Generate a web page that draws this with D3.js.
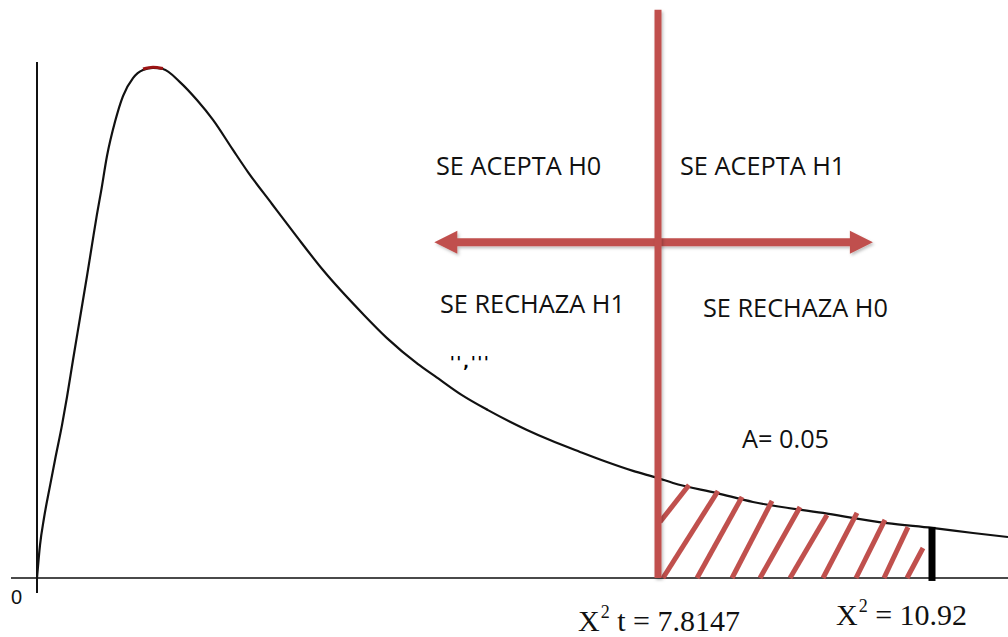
<!DOCTYPE html>
<html>
<head>
<meta charset="utf-8">
<script src="https://cdn.jsdelivr.net/npm/d3@7"></script>
<style>
  html, body { margin: 0; padding: 0; background: #fff; }
  svg { display: block; }
</style>
</head>
<body>
<svg id="chart" width="1008" height="637"></svg>
<script>
// ---- data (chi-square density as drawn, df = 3) ----
const curveX = [0, 0.0378, 0.0881, 0.1636, 0.2265, 0.3146, 0.3775, 0.4530, 0.5411, 0.6292, 0.6921, 0.7550,
  0.8053, 0.8808, 0.9815, 1.0822, 1.2080, 1.3338, 1.4597, 1.5855, 1.799, 2.013, 2.215, 2.466, 2.655, 2.957,
  3.2717, 3.5988, 4.1022, 4.4042, 4.7943, 5.0082, 5.348, 5.675, 6.166, 6.455, 6.833, 7.172, 7.500, 7.8147,
  7.985, 8.483, 8.891, 9.685, 10.410, 10.92, 11.503, 12.0];
const curveY = [0, 0.0156, 0.0284, 0.0436, 0.0559, 0.0724, 0.0857, 0.1032, 0.1231, 0.1430, 0.1577, 0.1723,
  0.1828, 0.1998, 0.2160, 0.2282, 0.2367, 0.2405, 0.2415, 0.2410, 0.2348, 0.2263, 0.2169, 0.2027, 0.1922, 0.1771,
  0.1615, 0.1458, 0.1250, 0.1136, 0.1013, 0.0956, 0.0866, 0.0795, 0.0701, 0.0653, 0.0597, 0.0549, 0.0507, 0.0473,
  0.0450, 0.0402, 0.0360, 0.0308, 0.0260, 0.0237, 0.0213, 0.0194];
const peakX = [1.334, 1.460, 1.5855];
const peakY = [0.2410, 0.2418, 0.2412];

const criticalValue = 7.8147;   // X² t
const observedValue = 10.92;    // X²
const alpha = 0.05;

// hatch strokes in rejection region
const hatchX0 = [7.837, 7.871, 8.257, 8.654, 8.971, 9.311, 9.685, 10.059, 10.376, 10.637];
const hatchY0 = [0.0265, 0, 0, 0, 0, 0, 0, 0, 0, 0];
const hatchX1 = [8.166, 8.495, 8.767, 9.107, 9.424, 9.730, 10.070, 10.387, 10.648, 10.818];
const hatchY1 = [0.044, 0.0412, 0.0384, 0.0365, 0.0336, 0.0298, 0.0308, 0.0275, 0.0241, 0.0142];

const arrowX = [5.0, 10.25];
const arrowY = 0.159;
const criticalTop = 0.269;
const observedTop = 0.0242;

const labelsTop = ["SE ACEPTA H0", "SE ACEPTA H1"];
const labelsBottom = ["SE RECHAZA H1", "SE RECHAZA H0"];

// ---- scales ----
const x = d3.scaleLinear().domain([0, criticalValue, observedValue, 12]).range([37, 658, 932, 1008]);
const y = d3.scaleLinear().domain([0, 0.25]).range([578, 50]);

const svg = d3.select("#chart");
const RED = "#c0504d";

const defs = svg.append("defs");
const f = defs.append("filter").attr("id", "shadow").attr("filterUnits", "userSpaceOnUse")
  .attr("x", 0).attr("y", 0).attr("width", 1008).attr("height", 637);
f.append("feDropShadow").attr("dx", 1.5).attr("dy", 2).attr("stdDeviation", 1.5)
  .attr("flood-color", "#000").attr("flood-opacity", 0.25);

// axes
svg.append("line")
  .attr("x1", x(-0.327)).attr("x2", x(12)).attr("y1", y(0)).attr("y2", y(0))
  .attr("stroke", "#4a4a4a").attr("stroke-width", 2);
svg.append("line")
  .attr("x1", x(0)).attr("x2", x(0)).attr("y1", y(0.2443)).attr("y2", y(-0.0071))
  .attr("stroke", "#111").attr("stroke-width", 2);
svg.append("text").attr("x", 11).attr("y", 604)
  .attr("font-family", "Liberation Sans, Arial, sans-serif").attr("font-size", 20)
  .attr("fill", "#111").text("0");

// curve
const pts = curveX.map((d, i) => [d, curveY[i]]);
const line = d3.line().x(d => x(d[0])).y(d => y(d[1])).curve(d3.curveMonotoneX);
svg.append("path").datum(pts).attr("d", line)
  .attr("fill", "none").attr("stroke", "#111").attr("stroke-width", 2.2);
svg.append("path").datum(peakX.map((d, i) => [d, peakY[i]])).attr("d", line)
  .attr("fill", "none").attr("stroke", "#9b1414").attr("stroke-width", 3);

// hatch strokes
const hatch = hatchX0.map((d, i) => ({ x0: d, y0: hatchY0[i], x1: hatchX1[i], y1: hatchY1[i] }));
svg.append("g").selectAll("line").data(hatch).join("line")
  .attr("x1", d => x(d.x0)).attr("y1", d => y(d.y0))
  .attr("x2", d => x(d.x1)).attr("y2", d => y(d.y1))
  .attr("stroke", RED).attr("stroke-width", 5);

// observed value bar
svg.append("line")
  .attr("x1", x(observedValue)).attr("x2", x(observedValue))
  .attr("y1", y(observedTop)).attr("y2", y(-0.0014))
  .attr("stroke", "#000").attr("stroke-width", 7);

// double arrow
const ay = y(arrowY), lx = x(arrowX[0]), rx = x(arrowX[1]);
const headL = 23, headW = 11.5, shaft = 4;
const arrowPath = [
  [lx, ay], [lx + headL, ay - headW], [lx + headL, ay - shaft], [rx - headL, ay - shaft],
  [rx - headL, ay - headW], [rx, ay], [rx - headL, ay + headW], [rx - headL, ay + shaft],
  [lx + headL, ay + shaft], [lx + headL, ay + headW]
];
svg.append("path").attr("d", "M" + arrowPath.map(p => p.join(",")).join("L") + "Z")
  .attr("fill", RED).attr("filter", "url(#shadow)");

// critical vertical line
svg.append("line")
  .attr("x1", x(criticalValue)).attr("x2", x(criticalValue))
  .attr("y1", y(criticalTop)).attr("y2", y(0))
  .attr("stroke", RED).attr("stroke-width", 7).attr("filter", "url(#shadow)");

// labels
const sans = "'Open Sans', 'Noto Sans', sans-serif";
const lbl = (tx, ty, s) => svg.append("text").attr("x", tx).attr("y", ty)
  .attr("font-family", sans).attr("font-size", 25.3).attr("fill", "#111").text(s);
lbl(436, 175, labelsTop[0]);
lbl(680, 175, labelsTop[1]);
lbl(440, 313, labelsBottom[0]);
lbl(703, 317, labelsBottom[1]);
lbl(742, 448, "A= " + alpha.toFixed(2));

svg.append("text").attr("x", 450).attr("y", 368)
  .attr("font-family", "DejaVu Sans, sans-serif").attr("font-size", 15).attr("font-weight", "bold")
  .attr("letter-spacing", 2).attr("fill", "#000")
  .text("'','''");

// bottom formulas
const serif = "'Liberation Serif', 'Times New Roman', serif";
function formula(tx, ty, rest) {
  const t = svg.append("text").attr("x", tx).attr("y", ty)
    .attr("font-family", serif).attr("font-size", 30).attr("fill", "#111");
  t.append("tspan").text("X");
  t.append("tspan").attr("font-size", 18).attr("dy", -13).attr("dx", 1).text("2");
  t.append("tspan").attr("dy", 13).text(rest);
}
formula(578, 631, " t = " + criticalValue.toFixed(4));
formula(836, 625, " = " + observedValue.toFixed(2));
</script>
</body>
</html>
